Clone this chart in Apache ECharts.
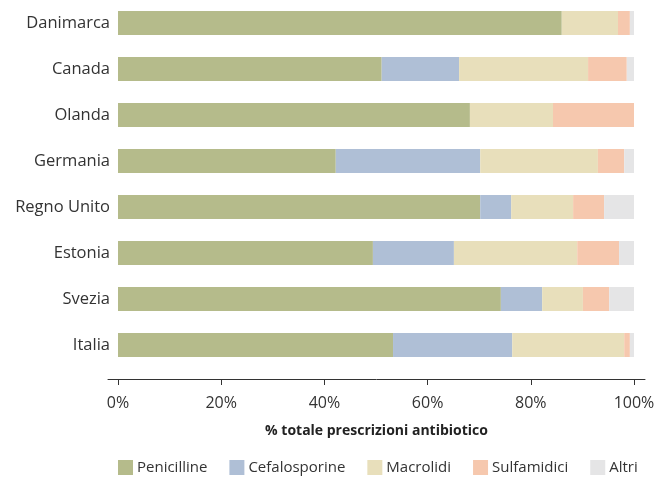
<!DOCTYPE html>
<html>
<head>
<meta charset="utf-8">
<script src="https://cdn.jsdelivr.net/npm/echarts@6/dist/echarts.min.js"></script>
<style>
  html, body { margin: 0; padding: 0; background: #fff; }
  #chart { width: 662px; height: 477px; }
</style>
</head>
<body>
<div id="chart"></div>
<script>
// Paesi (dall'alto in basso)
const paesi = ['Danimarca', 'Canada', 'Olanda', 'Germania', 'Regno Unito', 'Estonia', 'Svezia', 'Italia'];

// Quota percentuale di ciascuna classe di antibiotici
const penicilline   = [86.0, 51.1, 68.2, 42.2, 70.2, 49.4, 74.2, 53.3];
const cefalosporine = [0.0, 15.0, 0.0, 28.0, 6.0, 15.7, 8.0, 23.1];
const macrolidi     = [10.9, 25.0, 16.1, 22.8, 12.0, 23.9, 7.9, 21.7];
const sulfamidici   = [2.3, 7.5, 15.7, 5.1, 6.0, 8.1, 5.1, 1.1];
const altri         = [0.8, 1.4, 0.0, 1.9, 5.8, 2.9, 4.8, 0.8];

const tacche = [0, 20, 40, 60, 80, 100];

const FONT = '"Open Sans", "Noto Sans", sans-serif';

const classi = [
  { nome: 'Penicilline',   dati: penicilline,   colore: '#b5bb8b' },
  { nome: 'Cefalosporine', dati: cefalosporine, colore: '#afbfd6' },
  { nome: 'Macrolidi',     dati: macrolidi,     colore: '#e8dfbb' },
  { nome: 'Sulfamidici',   dati: sulfamidici,   colore: '#f6c8ae' },
  { nome: 'Altri',         dati: altri,         colore: '#e5e5e6' }
];

const chart = echarts.init(document.getElementById('chart'), null, { renderer: 'canvas' });

chart.setOption({
  animation: false,
  textStyle: { fontFamily: FONT },
  grid: { left: 108, right: 17, top: 0, bottom: 109, containLabel: false, outerBoundsMode: 'none' },
  legend: {
    left: 118,
    top: 460,
    padding: 0,
    itemWidth: 15,
    itemHeight: 15,
    itemGap: 22,
    icon: 'rect',
    textStyle: { fontFamily: FONT, fontSize: 15, color: '#333', padding: [0, 0, 0, -1] },
    data: classi.map(c => c.nome)
  },
  xAxis: {
    type: 'value',
    // l'asse si allunga un poco oltre 0% e 100%
    min: -1.94,
    max: 102.13,
    offset: 11,
    name: '% totale prescrizioni antibiotico',
    nameLocation: 'middle',
    nameGap: 45,
    nameTextStyle: { fontFamily: FONT, fontSize: 14, fontWeight: 'bold', color: '#222' },
    axisLine: { show: true, lineStyle: { color: '#333', width: 1 } },
    axisTick: { show: true, length: 6, lineStyle: { color: '#333' }, customValues: tacche },
    axisLabel: {
      customValues: tacche,
      formatter: v => Math.round(v) + '%',
      fontFamily: FONT, fontSize: 16, color: '#333', margin: 16
    },
    splitLine: { show: false }
  },
  yAxis: {
    type: 'category',
    inverse: true,
    data: paesi,
    axisLine: { show: false },
    axisTick: { show: false },
    axisLabel: { fontFamily: FONT, fontSize: 16.5, color: '#333', margin: -2 }
  },
  series: classi.map(c => ({
    name: c.nome,
    type: 'bar',
    stack: 'totale',
    barWidth: 24,
    data: c.dati,
    itemStyle: { color: c.colore },
    emphasis: { disabled: true }
  }))
});
</script>
</body>
</html>
